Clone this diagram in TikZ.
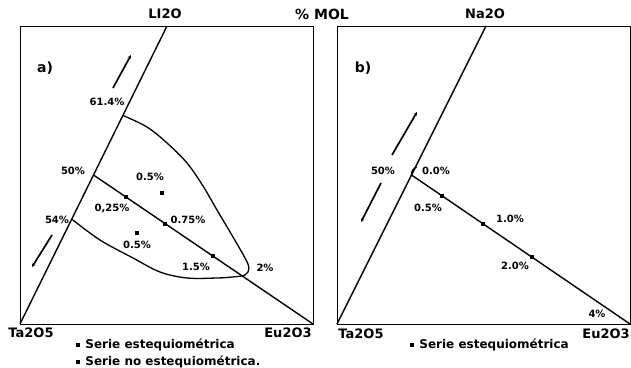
\documentclass[tikz,border=0pt]{standalone}
\usepackage{fontspec}
\setmainfont{DejaVu Sans}
\usepackage{tikz}
\usetikzlibrary{
  arrows.meta,
  positioning,
  calc
}
\tikzset{
  diagframe/.style={
    draw,
    line width=0.9pt
  },
  phaseline/.style={
    line width=1.4pt,
    line join=round
  },
  regionline/.style={
    line width=1.3pt,
    line join=round
  },
  trendarrow/.style={
    -{Stealth[length=3.5pt,width=3.5pt]},
    line width=1.7pt
  },
  compound/.style={font=\fontsize{13}{15}\selectfont\bfseries, inner sep=1pt},
  panellabel/.style={font=\fontsize{14}{16}\selectfont\bfseries, inner sep=1pt},
  pctlabel/.style={font=\fontsize{10}{12}\selectfont\bfseries, inner sep=1pt},
  legendtext/.style={font=\fontsize{12}{14}\selectfont\bfseries, inner sep=0pt},
  samplept/.style={
    rectangle,
    fill,
    minimum size=4pt,
    inner sep=0pt
  }
}

\begin{document}
\begin{tikzpicture}[x=1pt,y=-1pt]
  \useasboundingbox (0,0) rectangle (631,367);

  % Titulos
  \node[compound] (li2o) at (165,14) {LI2O};
  \node[panellabel] (mol) at (322,14) {\% MOL};
  \node[compound] (na2o) at (485,14) {Na2O};

  % a) sistema con Li2O
  \draw[diagframe] (20,26) rectangle (313,324);
  \coordinate (taA) at (20,324);
  \coordinate (euA) at (313,324);
  \coordinate (liA) at (167,26);
  \coordinate (a614) at ($(taA)!0.70!(liA)$);
  \coordinate (a50) at ($(taA)!0.50!(liA)$);
  \coordinate (a54) at ($(taA)!0.352!(liA)$);

  \draw[phaseline] (taA) -- (liA);
  \draw[phaseline] (a50) -- (euA);
  \draw[regionline] plot[smooth, tension=0.55] coordinates {
    (a614) (147,127) (167,143) (187,163) (203,186) (217,210) (233,237)
    (245,258) (249,268) (245,275) (232,277) (217,278) (187,278)
    (160,272) (133,258) (100,240) (a54)};

  \foreach \s/\n in {0.148/a1, 0.326/a2, 0.544/a3}
    \node[samplept] (\n) at ($(a50)!\s!(euA)$) {};
  \node[samplept] (an1) at (162,193) {};
  \node[samplept] (an2) at (137,233) {};

  \coordinate (aup0) at (113,88);
  \coordinate (aup1) at (131,55);
  \coordinate (adn0) at (52,235);
  \coordinate (adn1) at (32,267);
  \draw[trendarrow] (aup0) -- (aup1);
  \draw[trendarrow] (adn0) -- (adn1);

  \node[panellabel] (pa) at (45,68) {a)};
  \node[pctlabel] (la614) at (107,102) {61.4\%};
  \node[pctlabel] (la50) at (73,171) {50\%};
  \node[pctlabel] (la54) at (57,220) {54\%};
  \node[pctlabel] (lan1) at (150,177) {0.5\%};
  \node[pctlabel] (la1) at (112,208) {0,25\%};
  \node[pctlabel] (la2) at (188,220) {0.75\%};
  \node[pctlabel] (lan2) at (137,245) {0.5\%};
  \node[pctlabel] (la3) at (196,267) {1.5\%};
  \node[pctlabel] (la4) at (265,268) {2\%};

  \node[compound] (ta2o5a) at (31,333) {Ta2O5};
  \node[compound] (eu2o3a) at (288,333) {Eu2O3};
  \node[samplept] (bulA1) at (78,345) {};
  \node[legendtext, right=5pt of bulA1] (legA1) {Serie estequiométrica};
  \node[samplept] (bulA2) at (78,362) {};
  \node[legendtext, right=5pt of bulA2] (legA2) {Serie no estequiométrica.};

  % b) sistema con Na2O
  \draw[diagframe] (337,26) rectangle (630,324);
  \coordinate (taB) at (337,324);
  \coordinate (euB) at (630,324);
  \coordinate (naB) at (486,26);
  \coordinate (b50) at ($(taB)!0.50!(naB)$);

  \draw[phaseline] (taB) -- (naB);
  \draw[phaseline] (b50) -- (euB);
  \draw[regionline] (b50) to[bend left=35] ($(b50)+(5,-8)$);

  \foreach \s/\n in {0.14/b1, 0.327/b2, 0.551/b3}
    \node[samplept] (\n) at ($(b50)!\s!(euB)$) {};

  \coordinate (bup0) at (392,155);
  \coordinate (bup1) at (417,112);
  \coordinate (bdn0) at (381,183);
  \coordinate (bdn1) at (361,222);
  \draw[trendarrow] (bup0) -- (bup1);
  \draw[trendarrow] (bdn0) -- (bdn1);

  \node[panellabel] (pb) at (363,68) {b)};
  \node[pctlabel] (lb50) at (383,171) {50\%};
  \node[pctlabel] (lb0) at (436,171) {0.0\%};
  \node[pctlabel] (lb1) at (428,208) {0.5\%};
  \node[pctlabel] (lb2) at (510,219) {1.0\%};
  \node[pctlabel] (lb3) at (515,266) {2.0\%};
  \node[pctlabel] (lb4) at (597,314) {4\%};

  \node[compound] (ta2o5b) at (361,334) {Ta2O5};
  \node[compound] (eu2o3b) at (606,334) {Eu2O3};
  \node[samplept] (bulB1) at (412,345) {};
  \node[legendtext, right=5pt of bulB1] (legB1) {Serie estequiométrica};
\end{tikzpicture}
\end{document}
